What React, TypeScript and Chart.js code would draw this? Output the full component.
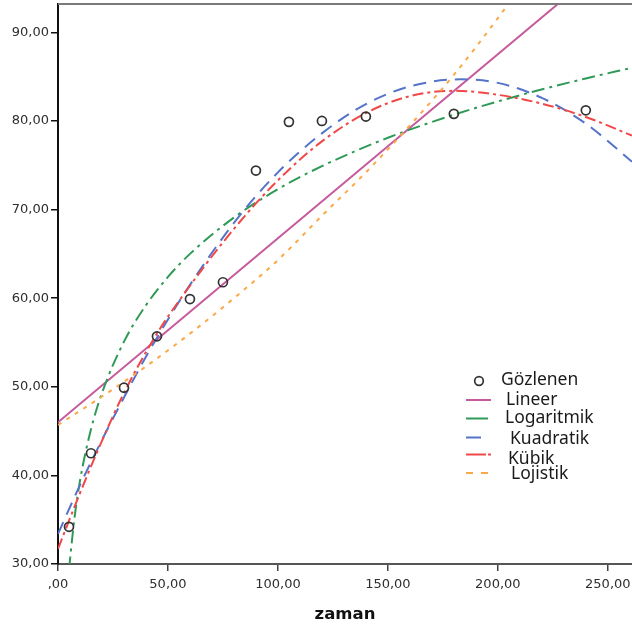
import React, { useEffect, useRef } from "react";
import { Chart, registerables } from "chart.js";

Chart.register(...registerables);

// Observed values (zaman vs measured value)
const zaman = [5, 15, 30, 45, 60, 75, 90, 105, 120, 140, 180, 240];
const gozlenen = [34.2, 42.5, 49.9, 55.7, 59.9, 61.8, 74.4, 79.9, 80.0, 80.5, 80.8, 81.2];

// Fitted curves, sampled along zaman
const lineerX = [0, 261];
const lineerY = [46.0, 100.2];

const logaritmikX = [5, 7.5, 10, 15, 20, 30, 40, 50, 60, 80, 100, 120, 150, 180, 210, 240, 261];
const logaritmikY = [29.4, 35.2, 39.4, 45.2, 49.3, 55.1, 59.2, 62.4, 65.0, 69.1, 72.3, 74.9, 78.1, 80.7, 82.9, 84.8, 86.0];

const kuadratikX = [0, 10, 20, 30, 40, 50, 60, 80, 100, 120, 140, 160, 183, 200, 220, 240, 261];
const kuadratikY = [33.4, 38.9, 44.0, 48.8, 53.4, 57.6, 61.5, 68.5, 74.2, 78.6, 81.9, 83.9, 84.7, 84.3, 82.6, 79.7, 75.4];

const kubikX = [0, 10, 20, 30, 45, 60, 75, 90, 105, 120, 140, 160, 180, 200, 220, 240, 261];
const kubikY = [31.7, 38.0, 43.9, 49.3, 56.0, 61.4, 66.3, 70.7, 74.5, 77.7, 80.9, 82.8, 83.4, 82.95, 81.95, 80.45, 78.35];

const lojistikX = [0, 20, 40, 60, 80, 100, 120, 140, 160, 180, 200, 220];
const lojistikY = [45.7, 48.9, 52.3, 56.0, 60.0, 64.3, 69.3, 74.2, 79.5, 85.2, 91.6, 98.5];

// Axis ticks and labels
const xTickValues = [0, 50, 100, 150, 200, 250];
const xTickLabels = [",00", "50,00", "100,00", "150,00", "200,00", "250,00"];
const yTickValues = [30, 40, 50, 60, 70, 80, 90];
const yTickLabels = ["30,00", "40,00", "50,00", "60,00", "70,00", "80,00", "90,00"];

const seriesNames = ["Gözlenen", "Lineer", "Logaritmik", "Kuadratik", "Kübik", "Lojistik"];

const COLORS = {
  point: "#333333",
  lineer: "#c65a9c",
  logaritmik: "#2f9a58",
  kuadratik: "#5573c8",
  kubik: "#f04848",
  lojistik: "#fba848",
};

const pairs = (xs: number[], ys: number[]) => xs.map((x, i) => ({ x, y: ys[i] }));

// Scales reserve no extra edge padding for their labels
const noEdgePadding = (scale: any) => {
  scale.paddingTop = 0;
  scale.paddingBottom = 0;
  scale.paddingLeft = 0;
  scale.paddingRight = 0;
};

// Frame line along the top of the plot area
const topFramePlugin = {
  id: "topFrame",
  afterDraw(chart: any) {
    const { ctx, chartArea } = chart;
    ctx.save();
    ctx.strokeStyle = "#7a7a7a";
    ctx.lineWidth = 2;
    ctx.beginPath();
    ctx.moveTo(chartArea.left, chartArea.top);
    ctx.lineTo(chartArea.right, chartArea.top);
    ctx.stroke();
    ctx.restore();
  },
};

// Legend drawn inside the plot, lower right
const innerLegendPlugin = {
  id: "innerLegend",
  afterDraw(chart: any) {
    const { ctx } = chart;
    const ds = chart.data.datasets;
    const rows = [
      { sx0: 479, sx1: 479, sy: 381, dash: [] as number[], tx: 501, ty: 380 },
      { sx0: 466, sx1: 491, sy: 400, dash: [], tx: 506, ty: 400 },
      { sx0: 466, sx1: 488, sy: 418.5, dash: [], tx: 505, ty: 418.5 },
      { sx0: 466, sx1: 481, sy: 437.5, dash: [], tx: 510, ty: 439 },
      { sx0: 466, sx1: 491, sy: 454.5, dash: [20, 2, 3, 100], tx: 508, ty: 459 },
      { sx0: 466, sx1: 488, sy: 473, dash: [7, 8], tx: 511, ty: 474.5 },
    ];
    ctx.save();
    rows.forEach((r, i) => {
      const d = ds[i];
      if (i === 0) {
        ctx.beginPath();
        ctx.strokeStyle = d.borderColor;
        ctx.lineWidth = 1.7;
        ctx.arc(r.sx0, r.sy, 4.3, 0, Math.PI * 2);
        ctx.stroke();
      } else {
        ctx.beginPath();
        ctx.strokeStyle = d.borderColor;
        ctx.lineWidth = 2;
        ctx.setLineDash(r.dash);
        ctx.moveTo(r.sx0, r.sy);
        ctx.lineTo(r.sx1, r.sy);
        ctx.stroke();
        ctx.setLineDash([]);
      }
      ctx.fillStyle = "#1a1a1a";
      ctx.font = "17.5px 'Noto Sans'";
      ctx.textAlign = "left";
      ctx.textBaseline = "middle";
      ctx.fillText(d.label, r.tx, r.ty);
    });
    ctx.restore();
  },
};

export default function App() {
  const canvasRef = useRef<HTMLCanvasElement | null>(null);

  useEffect(() => {
    document.body.style.margin = "0";
    const canvas = canvasRef.current;
    if (!canvas) return;

    const lineDefaults = {
      type: "line" as const,
      pointRadius: 0,
      pointHoverRadius: 0,
      borderWidth: 2,
      fill: false,
      cubicInterpolationMode: "monotone" as const,
      clip: 0,
    };

    const chart = new Chart(canvas, {
      type: "scatter",
      data: {
        datasets: [
          {
            type: "scatter",
            label: seriesNames[0],
            data: pairs(zaman, gozlenen),
            pointStyle: "circle",
            pointRadius: 4.5,
            pointBorderWidth: 1.7,
            borderColor: COLORS.point,
            pointBorderColor: COLORS.point,
            backgroundColor: "rgba(255,255,255,0)",
            pointBackgroundColor: "rgba(255,255,255,0)",
            order: 0,
          },
          {
            ...lineDefaults,
            label: seriesNames[1],
            data: pairs(lineerX, lineerY),
            borderColor: COLORS.lineer,
            borderDash: [],
            order: 5,
          },
          {
            ...lineDefaults,
            label: seriesNames[2],
            data: pairs(logaritmikX, logaritmikY),
            borderColor: COLORS.logaritmik,
            borderDash: [13, 5, 3, 5],
            order: 4,
          },
          {
            ...lineDefaults,
            label: seriesNames[3],
            data: pairs(kuadratikX, kuadratikY),
            borderColor: COLORS.kuadratik,
            borderDash: [13, 8],
            order: 3,
          },
          {
            ...lineDefaults,
            label: seriesNames[4],
            data: pairs(kubikX, kubikY),
            borderColor: COLORS.kubik,
            borderDash: [11, 4, 3, 4],
            order: 2,
          },
          {
            ...lineDefaults,
            label: seriesNames[5],
            data: pairs(lojistikX, lojistikY),
            borderColor: COLORS.lojistik,
            borderDash: [4, 6],
            order: 1,
          },
        ] as any,
      },
      options: {
        responsive: false,
        animation: false,
        events: [],
        layout: { autoPadding: false, padding: { top: 4, right: 0, left: 0, bottom: 0 } },
        plugins: {
          legend: { display: false },
          tooltip: { enabled: false },
          title: { display: false },
        },
        scales: {
          x: {
            type: "linear",
            min: 0,
            max: 261,
            afterBuildTicks: (scale: any) => {
              scale.ticks = xTickValues.map((v) => ({ value: v }));
            },
            afterFit: (scale: any) => {
              scale.height = 65;
              noEdgePadding(scale);
            },
            ticks: {
              includeBounds: false,
              autoSkip: false,
              maxRotation: 0,
              padding: 6,
              color: "#2e2e2e",
              font: { family: "'DejaVu Sans'", size: 13 },
              callback: (v: any) => {
                const i = xTickValues.indexOf(Number(v));
                return i >= 0 ? xTickLabels[i] : "";
              },
            },
            grid: {
              drawOnChartArea: false,
              drawTicks: true,
              tickLength: 7,
              color: "#444444",
              lineWidth: 1.5,
            },
            border: { display: true, color: "#555555", width: 2 },
            title: {
              display: true,
              text: "zaman",
              color: "#111111",
              font: { family: "'DejaVu Sans'", size: 16.5, weight: "bold" },
              padding: { top: 0, bottom: 4 },
            },
          },
          y: {
            type: "linear",
            min: 30,
            max: 93.2,
            afterBuildTicks: (scale: any) => {
              scale.ticks = yTickValues.map((v) => ({ value: v }));
            },
            afterFit: (scale: any) => {
              scale.width = 58;
              noEdgePadding(scale);
            },
            ticks: {
              includeBounds: false,
              autoSkip: false,
              padding: 2,
              color: "#2e2e2e",
              font: { family: "'DejaVu Sans'", size: 13 },
              callback: (v: any) => {
                const i = yTickValues.indexOf(Number(v));
                return i >= 0 ? yTickLabels[i] : "";
              },
            },
            grid: {
              drawOnChartArea: false,
              drawTicks: true,
              tickLength: 7,
              color: "#111111",
              lineWidth: 1.5,
            },
            border: { display: true, color: "#111111", width: 2 },
          },
        },
      } as any,
      plugins: [topFramePlugin, innerLegendPlugin],
    });

    return () => {
      chart.destroy();
    };
  }, []);

  return (
    <div style={{ width: 632, height: 629, background: "#ffffff" }}>
      <canvas ref={canvasRef} width={632} height={629} style={{ display: "block" }} />
    </div>
  );
}
